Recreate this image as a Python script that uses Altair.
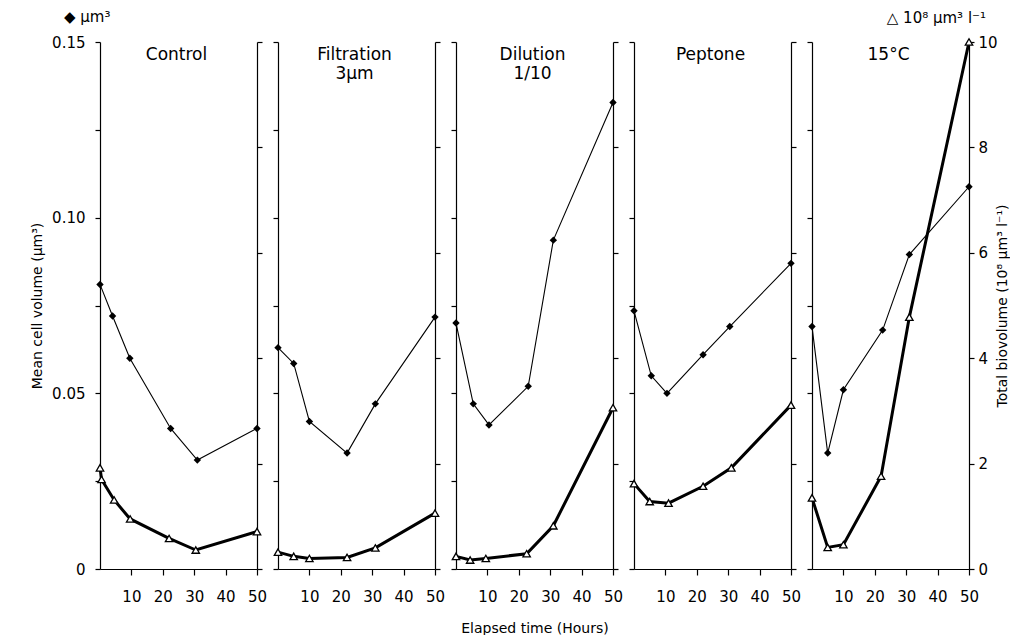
import altair as alt
import pandas as pd

panels = ["Control", "Filtration", "Dilution", "Peptone", "15°C"]
panel_titles = [["Control"], ["Filtration", "3µm"], ["Dilution", "1/10"], ["Peptone"], ["15°C"]]

# Mean cell volume (µm3) — filled diamonds, thin line
mcv_hours = [
    [0, 4, 9.5, 22.5, 31, 50],
    [0, 5, 10, 22, 31, 50],
    [0, 5.5, 10.5, 23, 31, 50],
    [0, 5.5, 10.5, 22, 30.5, 50],
    [0, 5, 10, 22.5, 31, 50],
]
mcv_values = [
    [0.081, 0.072, 0.060, 0.040, 0.031, 0.040],
    [0.063, 0.0585, 0.042, 0.033, 0.047, 0.0717],
    [0.070, 0.047, 0.041, 0.052, 0.0936, 0.1328],
    [0.0735, 0.055, 0.050, 0.061, 0.069, 0.087],
    [0.069, 0.033, 0.051, 0.068, 0.0895, 0.1088],
]
# Total biovolume (10^8 µm3 l-1) — open triangles, thick line
bv_hours = [
    [0, 0.5, 4.5, 9.6, 22, 30.5, 50],
    [0, 5, 10, 22, 31, 50],
    [0, 4.5, 9.5, 22.5, 31, 50],
    [0, 5, 11, 22, 31, 50],
    [0, 5, 10, 22, 31, 50],
]
bv_values = [
    [1.92, 1.70, 1.31, 0.95, 0.58, 0.36, 0.71],
    [0.32, 0.24, 0.20, 0.22, 0.40, 1.06],
    [0.24, 0.17, 0.20, 0.29, 0.82, 3.06],
    [1.62, 1.28, 1.25, 1.57, 1.92, 3.11],
    [1.35, 0.41, 0.46, 1.76, 4.78, 10.0],
]
x_ticks = [10, 20, 30, 40, 50]
mcv_ticks = [0, 0.025, 0.05, 0.075, 0.1, 0.125, 0.15]
bv_ticks = [0, 2, 4, 6, 8, 10]

W, H = 157, 527
FONT = "DejaVu Sans"
n = len(panels)


def panel(i):
    first = i == 0
    last = i == n - 1
    mid = i == n // 2
    d1 = pd.DataFrame({"hours": mcv_hours[i], "mcv": mcv_values[i]})
    d2 = pd.DataFrame({"hours": bv_hours[i], "bv": bv_values[i]})
    xscale = alt.Scale(domain=[0, 50], nice=False)

    xaxis_kw = dict(values=x_ticks, tickSize=6, labelPadding=14, labelFontSize=15,
                    labelFlush=False, grid=False, titlePadding=17, titleFontSize=14,
                    titleFontWeight="normal")
    if mid:
        xaxis_kw["title"] = "Elapsed time (Hours)"
    else:
        xaxis_kw["title"] = None

    lax = dict(orient="left", values=mcv_ticks, labels=first, tickSize=5,
               labelPadding=10, labelFontSize=15, grid=False,
               labelExpr="datum.value == 0 ? '0' : (round(datum.value*1000) % 50 == 0 ? format(datum.value, '.2f') : '')")
    if first:
        lax.update(title="Mean cell volume (µm³)", titlePadding=7, titleFontSize=14,
                   titleFontWeight="normal", titleAngle=270)
    else:
        lax["title"] = None

    rax = dict(orient="right", values=bv_ticks, labels=last, tickSize=5, format="d",
               labelPadding=4, labelFontSize=15, grid=False)
    if last:
        rax.update(title="Total biovolume (10⁸ µm³ l⁻¹)", titlePadding=12, titleFontSize=14,
                   titleFontWeight="normal", titleAngle=270)
    else:
        rax["title"] = None

    mcv_line = alt.Chart(d1).mark_line(
        color="black", strokeWidth=1.1,
        point=alt.OverlayMarkDef(shape="diamond", filled=True, fill="black", size=55),
    ).encode(
        x=alt.X("hours:Q", scale=xscale, axis=alt.Axis(**xaxis_kw)),
        y=alt.Y("mcv:Q", scale=alt.Scale(domain=[0, 0.15], nice=False), axis=alt.Axis(**lax)),
    )
    bv_line = alt.Chart(d2).mark_line(
        color="black", strokeWidth=3,
        point=alt.OverlayMarkDef(shape="triangle-up", filled=True, fill="white",
                                 stroke="black", strokeWidth=1.3, size=55),
    ).encode(
        x=alt.X("hours:Q", scale=xscale, axis=alt.Axis(**xaxis_kw)),
        y=alt.Y("bv:Q", scale=alt.Scale(domain=[0, 10], nice=False), axis=alt.Axis(**rax)),
    )
    title = alt.Chart(alt.Data(values=[{}])).mark_text(
        text=panel_titles[i], font=FONT, fontSize=17, lineHeight=19,
        align="center", baseline="top", color="black",
    ).encode(x=alt.value(W / 2 - 2), y=alt.value(5))
    layers = [mcv_line, bv_line, title]
    if first:
        layers.append(alt.Chart(alt.Data(values=[{}])).mark_text(
            text="◆  µm³", font=FONT, fontSize=15, align="left", baseline="middle", color="black",
        ).encode(x=alt.value(-36), y=alt.value(-25)))
    if last:
        layers.append(alt.Chart(alt.Data(values=[{}])).mark_text(
            text="△ 10⁸ µm³ l⁻¹", font=FONT, fontSize=15, align="right", baseline="middle", color="black",
        ).encode(x=alt.value(174), y=alt.value(-24)))
    return alt.layer(*layers).resolve_scale(y="independent").properties(width=W, height=H)


chart = alt.hconcat(*[panel(i) for i in range(n)], spacing=21, bounds="flush").resolve_scale(
    x="independent", y="independent"
).properties(
    padding={"left": 22, "top": 2, "right": 0, "bottom": 0}
).configure_axis(
    labelFont=FONT, titleFont=FONT, labelColor="black", titleColor="black",
    domainColor="black", tickColor="black", domainWidth=1.2, tickWidth=1.2,
).configure_view(strokeWidth=0)

chart.save("out.html", embed_options={"renderer": "svg", "actions": False})
